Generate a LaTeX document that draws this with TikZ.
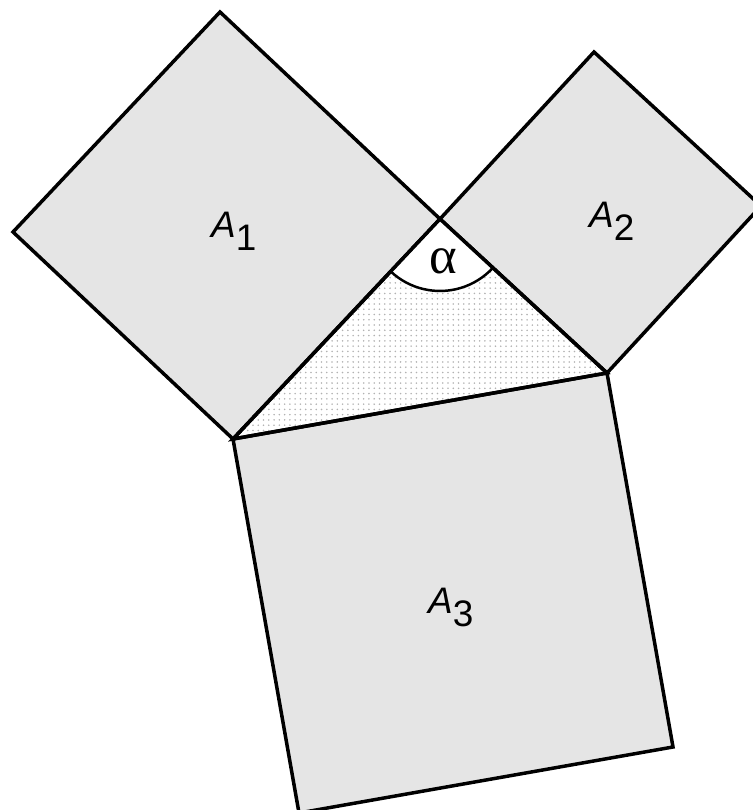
\documentclass[tikz,border=0pt]{standalone}
\usepackage{fontspec}
\setmainfont{Liberation Sans}
\newfontfamily\greekfont{Liberation Serif}
\usetikzlibrary{patterns}

\begin{document}
\begin{tikzpicture}[x=0.02cm, y=0.02cm,
			square/.style={draw, fill=black!10, line width=0.07cm, line join=miter},
			tri/.style={pattern=dots, pattern color=black!30},
			areatext/.style={inner sep=0pt, font=\fontsize{21}{25}\selectfont}]
			\useasboundingbox (0,0) rectangle (752,810);
			
			% triangle corners
			\coordinate (apex) at (440,591);
			\coordinate (left) at (233,371);
			\coordinate (right) at (607,437);
			
			% squares on the sides
			\draw[square] (left) -- (13,578) -- (220,798) -- (apex) -- cycle;
			\draw[square] (apex) -- (594,758) -- (761,604) -- (right) -- cycle;
			\draw[square] (left) -- (right) -- (673,63) -- (299,-3) -- cycle;
			
			\fill[tri] (apex) -- (left) -- (right) -- cycle;
			
			% angle at the apex
			\draw[fill=white, line width=0.05cm] (apex) -- ++(226.7:72) arc[start angle=226.7, end angle=317.3, radius=72] -- cycle;
			\draw[line width=0.07cm] (left) -- (apex) -- (right) -- cycle;
			
			\node[areatext, anchor=base west](a1) at (211,572) {\textit{A}\raisebox{-0.35em}{1}};
			\node[areatext, anchor=base west](a2) at (589,582) {\textit{A}\raisebox{-0.35em}{2}};
			\node[areatext, anchor=base west](a3) at (428,196) {\textit{A}\raisebox{-0.35em}{3}};
			\node[inner sep=0pt, font=\greekfont\fontsize{30}{34}\selectfont](alpha) at (443,549) {α};
			\end{tikzpicture}
\end{document}
